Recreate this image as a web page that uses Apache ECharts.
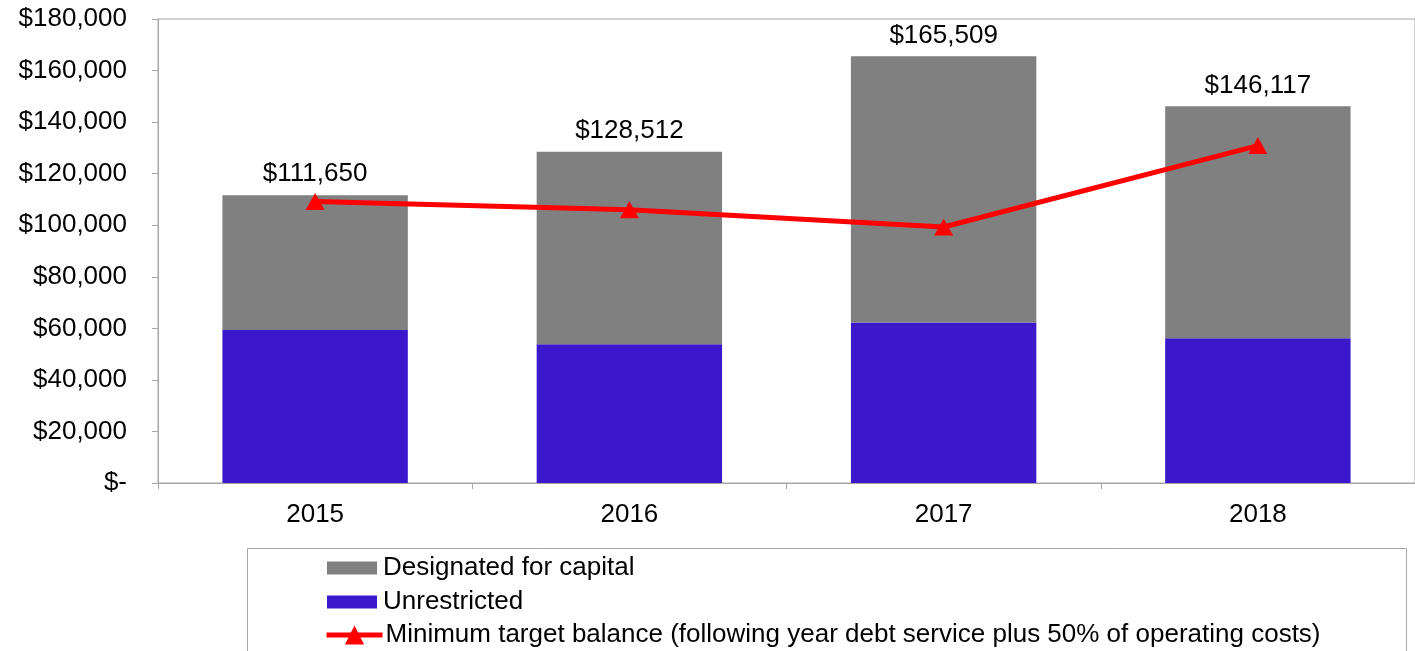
<!DOCTYPE html>
<html>
<head>
<meta charset="utf-8">
<style>
  html, body { margin: 0; padding: 0; background: #fff; }
  #chart { width: 1415px; height: 651px; }
</style>
<script src="https://cdn.jsdelivr.net/npm/echarts@6/dist/echarts.min.js"></script>
</head>
<body>
<div id="chart"></div>
<script>
// Fund balance by year (dollars)
const years = ['2015', '2016', '2017', '2018'];
const totals = [111650, 128512, 165509, 146117];
const unrestricted = [59400, 53800, 62300, 56200];
const designated = totals.map((t, i) => t - unrestricted[i]);
const minimumTarget = [109200, 106000, 99300, 130900];

const seriesNames = [
  'Designated for capital',
  'Unrestricted',
  'Minimum target balance (following year debt service plus 50% of operating costs)'
];

const FONT = '"Liberation Sans", Arial, sans-serif';
const FONT_SIZE = 26;
const AXIS_GRAY = '#a6a6a6';

function money(v) {
  if (v === 0) return '$-';
  return '$' + v.toLocaleString('en-US');
}

const legendText = { fontSize: FONT_SIZE, color: '#000', fontFamily: FONT };

const chart = echarts.init(document.getElementById('chart'), null, { renderer: 'canvas' });

chart.setOption({
  animation: false,
  textStyle: { fontFamily: FONT },
  grid: {
    left: 158, top: 19, width: 1264, height: 464,
    show: true, borderColor: AXIS_GRAY, borderWidth: 1, backgroundColor: 'transparent'
  },
  // frame around the legend
  graphic: [{
    type: 'rect',
    shape: { x: 247.5, y: 548.5, width: 1159, height: 200 },
    style: { fill: 'none', stroke: AXIS_GRAY, lineWidth: 1 },
    z: -1
  }],
  legend: [
    {
      data: [{ name: seriesNames[0], icon: 'rect' }], orient: 'vertical', left: 327, top: 555,
      itemWidth: 50, itemHeight: 13, itemGap: 0, padding: 0,
      textStyle: Object.assign({ padding: [0, 0, 0, 1] }, legendText)
    },
    {
      data: [{ name: seriesNames[1], icon: 'rect' }], orient: 'vertical', left: 327, top: 589,
      itemWidth: 50, itemHeight: 13, itemGap: 0, padding: 0,
      textStyle: Object.assign({ padding: [0, 0, 0, 1] }, legendText)
    },
    {
      data: [seriesNames[2]], orient: 'vertical', left: 324, top: 622,
      itemWidth: 56, itemHeight: 24, itemGap: 0, padding: 0,
      lineStyle: { width: 5 },
      textStyle: Object.assign({ padding: [0, 0, 0, -2] }, legendText)
    }
  ],
  xAxis: {
    type: 'category',
    data: years,
    axisLine: { lineStyle: { color: AXIS_GRAY, width: 1 } },
    axisTick: { show: true, length: 6, alignWithLabel: false, lineStyle: { color: AXIS_GRAY } },
    axisLabel: { fontSize: FONT_SIZE, color: '#000', margin: 19, fontFamily: FONT },
    splitLine: { show: false }
  },
  yAxis: {
    type: 'value',
    min: 0, max: 180000, interval: 20000,
    axisLine: { show: true, lineStyle: { color: AXIS_GRAY, width: 1 } },
    axisTick: { show: true, length: 6, lineStyle: { color: AXIS_GRAY } },
    axisLabel: { fontSize: FONT_SIZE, color: '#000', margin: 31, fontFamily: FONT, formatter: money },
    splitLine: { show: false }
  },
  series: [
    {
      name: seriesNames[1],
      type: 'bar',
      stack: 'total',
      data: unrestricted,
      barWidth: '59%',
      itemStyle: { color: '#3b18cc' }
    },
    {
      name: seriesNames[0],
      type: 'bar',
      stack: 'total',
      data: designated,
      itemStyle: { color: '#808080' },
      label: {
        show: true,
        position: 'top',
        distance: 8,
        fontSize: FONT_SIZE,
        color: '#000',
        fontFamily: FONT,
        formatter: p => money(totals[p.dataIndex])
      }
    },
    {
      name: seriesNames[2],
      type: 'line',
      data: minimumTarget,
      symbol: 'triangle',
      symbolSize: [19, 17],
      showSymbol: true,
      lineStyle: { color: '#ff0000', width: 5 },
      itemStyle: { color: '#ff0000' },
      z: 5
    }
  ]
});
</script>
</body>
</html>
